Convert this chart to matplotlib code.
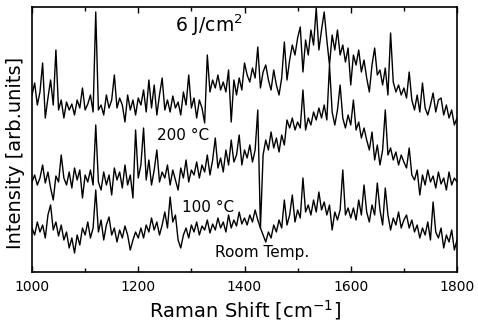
import numpy as np
import matplotlib
matplotlib.use("Agg")
import matplotlib.pyplot as plt
from matplotlib.ticker import MultipleLocator

plt.rcParams['font.family'] = ['DejaVu Sans']
plt.rcParams['mathtext.default'] = 'regular'

# Raman shift grid (cm^-1), values every 5 cm^-1
shift = np.arange(1000, 1801, 5)

# top trace (6 J/cm2, highest annealing)
top = [177, 189, 167, 180, 209, 154, 174, 192, 167, 222, 162, 172, 154, 170, 162, 168, 157, 172, 164, 184, 162,
       168, 177, 160, 260, 162, 167, 157, 177, 164, 172, 197, 164, 174, 167, 150, 177, 162, 172, 157, 174,
       167, 182, 160, 192, 164, 187, 157, 177, 194, 162, 172, 160, 176, 164, 170, 157, 180, 167, 197, 164,
       174, 154, 172, 164, 149, 217, 180, 192, 184, 197, 182, 190, 180, 202, 150, 192, 177, 194, 182, 209,
       197, 190, 204, 194, 225, 184, 200, 207, 192, 182, 202, 187, 177, 194, 230, 192, 212, 227, 217, 234,
       245, 200, 232, 217, 242, 227, 264, 222, 242, 260, 232, 207, 237, 222, 242, 217, 227, 210, 224, 187,
       217, 207, 222, 200, 212, 194, 180, 207, 224, 197, 202, 187, 204, 177, 239, 190, 180, 187, 177, 184,
       174, 200, 172, 162, 177, 160, 189, 164, 157, 167, 179, 160, 172, 174, 157, 167, 154, 162, 147, 154]

# middle trace
mid = [90, 97, 87, 94, 107, 89, 100, 84, 72, 96, 90, 117, 94, 87, 100, 84, 104, 92, 102, 74, 97,
       90, 102, 87, 147, 90, 82, 100, 87, 97, 77, 104, 92, 100, 84, 107, 87, 97, 74, 142, 94,
       107, 144, 92, 112, 87, 102, 122, 90, 100, 94, 107, 87, 102, 92, 82, 104, 94, 112, 90, 102,
       97, 110, 94, 107, 100, 117, 97, 112, 134, 104, 114, 100, 122, 107, 132, 110, 117, 137, 107, 122,
       114, 127, 110, 122, 162, 44, 117, 132, 122, 140, 124, 134, 120, 137, 127, 152, 144, 154, 142, 150,
       144, 182, 142, 154, 147, 160, 152, 164, 154, 167, 152, 207, 160, 147, 162, 187, 154, 144, 157, 147,
       172, 142, 150, 134, 144, 132, 122, 140, 112, 127, 107, 122, 162, 117, 124, 112, 120, 107, 117, 110,
       104, 124, 97, 92, 102, 77, 97, 87, 102, 90, 96, 84, 100, 88, 94, 82, 100, 87, 94, 90]

# bottom trace
bot = [44, 37, 50, 40, 47, 34, 57, 67, 42, 50, 36, 47, 32, 40, 24, 34, 19, 37, 27, 44, 37,
       50, 34, 44, 82, 40, 52, 32, 47, 55, 37, 44, 30, 42, 34, 46, 37, 22, 32, 40, 34,
       44, 34, 47, 40, 54, 42, 50, 37, 47, 60, 44, 75, 50, 57, 32, 24, 37, 44, 34, 47,
       40, 50, 37, 46, 42, 52, 39, 48, 42, 54, 44, 50, 40, 57, 44, 52, 46, 60, 48, 54,
       47, 57, 50, 62, 52, 44, 37, 30, 40, 34, 47, 40, 52, 44, 72, 47, 57, 77, 50, 62,
       54, 94, 60, 67, 57, 72, 60, 80, 62, 70, 57, 67, 42, 60, 52, 62, 102, 57, 64, 54,
       64, 52, 72, 57, 87, 60, 50, 67, 57, 89, 62, 47, 84, 57, 42, 54, 47, 60, 44, 52,
       57, 44, 52, 40, 47, 34, 44, 37, 50, 32, 70, 40, 34, 44, 24, 37, 30, 42, 22, 32]

fig = plt.figure(figsize=(4.78, 3.27), dpi=100)
ax = fig.add_axes([32/478, 55/327, 425/478, 265/327])

for s in (top, mid, bot):
    ax.plot(shift, s, color='black', lw=1.0)

ax.set_xlim(1000, 1800)
ax.set_ylim(0, 265)
ax.set_yticks([])
ax.xaxis.set_major_locator(MultipleLocator(200))
ax.xaxis.set_minor_locator(MultipleLocator(100))
ax.tick_params(axis='x', which='both', direction='in', top=True, labelsize=10, pad=6)
ax.tick_params(axis='x', which='major', length=4, width=1)
ax.tick_params(axis='x', which='minor', length=3, width=1)
for sp in ax.spines.values():
    sp.set_linewidth(1.2)

ax.set_xlabel('Raman Shift [cm$^{-1}$]', fontsize=14, labelpad=3)
ax.set_ylabel('Intensity [arb.units]', fontsize=14)
ax.yaxis.set_label_coords(-0.016, 0.45)

ax.text(1333, 247, '6 J/cm$^2$', fontsize=13.5, ha='center', va='center')
ax.text(1284, 137, '200 °C', fontsize=11, ha='center', va='center')
ax.text(1331, 65, '100 °C', fontsize=11, ha='center', va='center')
ax.text(1433, 19, 'Room Temp.', fontsize=11, ha='center', va='center')

fig.savefig('out.png', dpi=100)
